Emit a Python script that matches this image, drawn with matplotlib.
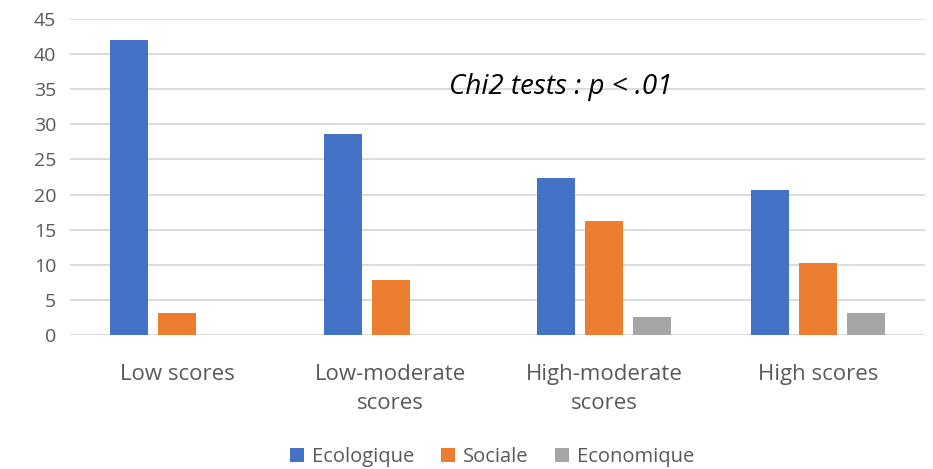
import matplotlib
matplotlib.use("Agg")
import matplotlib.pyplot as plt
import numpy as np

categories = ["Low scores", "Low-moderate\nscores", "High-moderate\nscores", "High scores"]
series_names = ["Ecologique", "Sociale", "Economique"]
ecologique = [42.0, 28.6, 22.3, 20.6]
sociale = [3.2, 7.8, 16.3, 10.3]
economique = [0.0, 0.0, 2.6, 3.2]
colors = ["#4472C4", "#ED7D31", "#A5A5A5"]
yticks = [0, 5, 10, 15, 20, 25, 30, 35, 40, 45]

plt.rcParams['font.family'] = ['Open Sans', 'DejaVu Sans']
txt = "#595959"

fig = plt.figure(figsize=(9.33, 4.69), dpi=100)
ax = fig.add_axes([70/933, 1-335/469, (925-70)/933, (335-19)/469])

x = np.arange(len(categories))
w = 0.178
step = 0.2245
handles = []
for i, (vals, name) in enumerate(zip([ecologique, sociale, economique], series_names)):
    h = ax.bar(x + (i-1)*step, vals, width=w, color=colors[i], label=name, zorder=3)
    handles.append(h)

ax.set_xlim(-0.5, 3.5)
ax.set_ylim(0, 45)
ax.set_yticks(yticks)
ax.set_yticklabels([str(t) for t in yticks], fontsize=14, color=txt)
ax.set_xticks(x)
ax.set_xticklabels(categories, fontsize=16, color=txt, linespacing=1.5)
ax.tick_params(axis='both', length=0)
ax.tick_params(axis='y', pad=10)
ax.tick_params(axis='x', pad=21)
ax.yaxis.grid(True, color="#D9D9D9", linewidth=1.3, zorder=0)
ax.set_axisbelow(True)
for s in ax.spines.values():
    s.set_visible(False)

ax.text(561/933, 1-87/469, "Chi2 tests : p < .01", transform=fig.transFigure,
        fontsize=20, style='italic', color="#000000", ha='center', va='center')

fig.legend(handles=handles, labels=series_names, loc='center', bbox_to_anchor=(492/933, 1-457/469),
           ncol=3, frameon=False, fontsize=14.5, labelcolor=txt, handlelength=0.7, handleheight=0.7,
           handletextpad=0.4, columnspacing=1.3)

fig.savefig("out.png", dpi=100)
